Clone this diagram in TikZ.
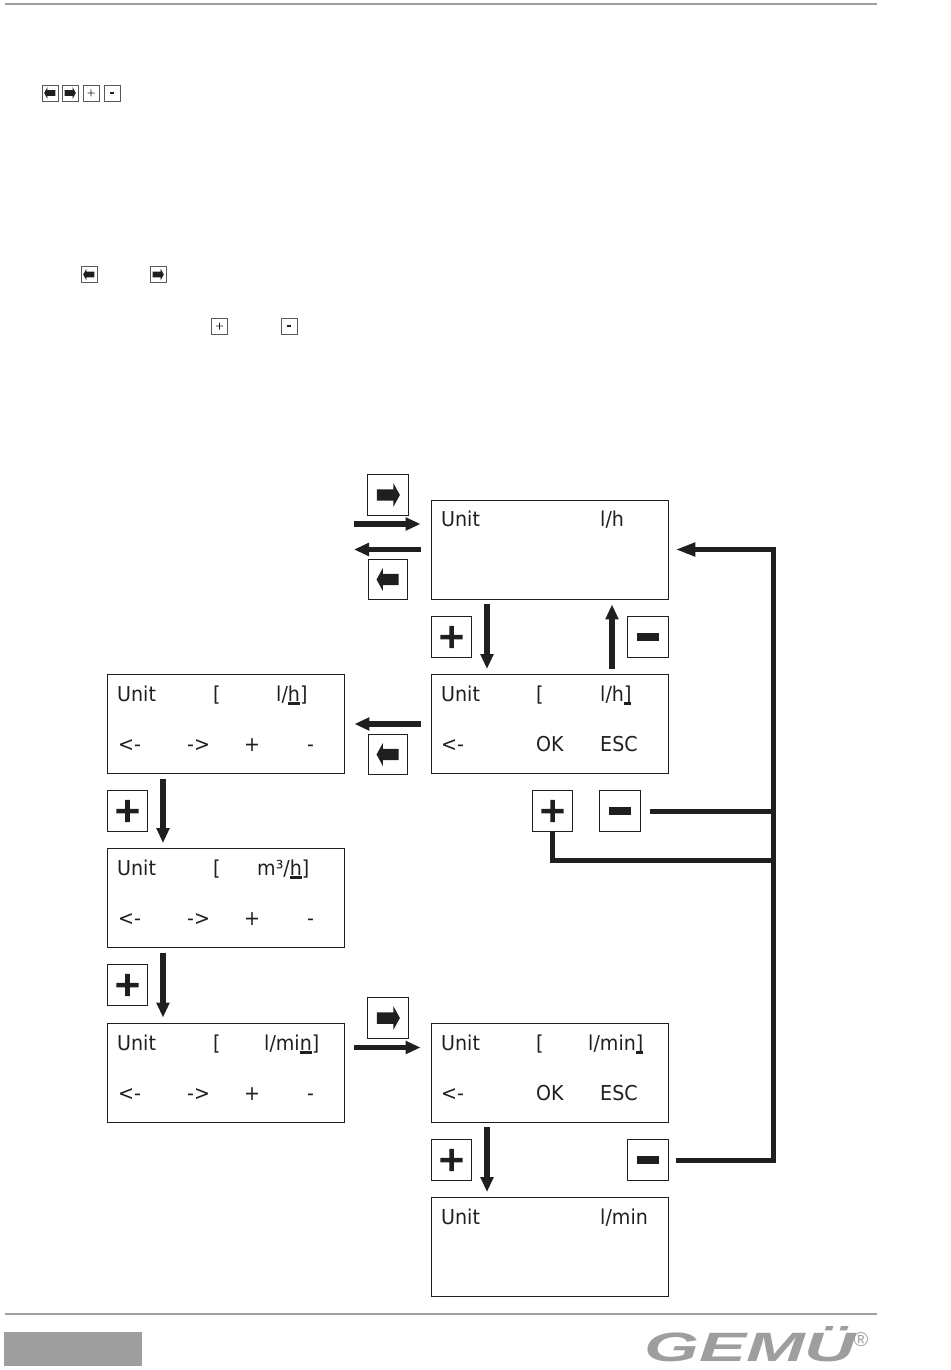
\documentclass[tikz,border=0pt]{standalone}
\usepackage{fontspec}
\setmainfont{DejaVu Sans}[FakeStretch=0.93]
\newfontfamily\logofont{Liberation Sans}
\usepackage{graphicx}
\usetikzlibrary{arrows.meta}
\usetikzlibrary{calc}
\definecolor{rulegray}{gray}{0.62}
\definecolor{ink}{gray}{0.12}
\tikzstyle{display}=[draw=ink, line width=0.9pt, minimum width=237pt, minimum height=99pt, inner sep=0pt]
\tikzstyle{lcd}=[anchor=base west, inner sep=0pt, text=ink, font=\fontsize{20.5}{24}\selectfont]
\tikzstyle{keybox}=[draw=ink, line width=0.8pt, minimum size=#1, inner sep=0pt]
\tikzstyle{tinybox}=[draw=black!65, line width=0.7pt, minimum size=16pt, inner sep=0pt]
\tikzstyle{flow}=[draw=ink, line width=5.2pt, -{Triangle[length=15pt,width=12.5pt]}]
\tikzstyle{bus}=[draw=ink, line width=5pt]
\tikzset{
  glyphright/.style={path picture={\fill[ink,shift={(path picture bounding box.center)},x=#1pt,y=#1pt]
    (-.27,-.14) -- (.13,-.14) -- (.13,-.29) -- (.29,0) -- (.13,.29) -- (.13,.14) -- (-.27,.14) -- cycle;}},
  glyphleft/.style={path picture={\fill[ink,shift={(path picture bounding box.center)},x=#1pt,y=#1pt]
    (.27,-.14) -- (-.13,-.14) -- (-.13,-.29) -- (-.29,0) -- (-.13,.29) -- (-.13,.14) -- (.27,.14) -- cycle;}},
  glyphplus/.style={path picture={\fill[ink,shift={(path picture bounding box.center)},x=41pt,y=41pt]
    (-.27,-.055) rectangle (.27,.055) (-.055,-.27) rectangle (.055,.27);}},
  glyphminus/.style={path picture={\fill[ink,shift={(path picture bounding box.center)},x=41pt,y=41pt]
    (-.27,-.1) rectangle (.27,.1);}},
  tinyplus/.style={path picture={\fill[ink,shift={(path picture bounding box.center)}]
    (-3.5,-.35) rectangle (3.5,.35) (-.35,-3.5) rectangle (.35,3.5);}},
  tinyminus/.style={path picture={\fill[ink,shift={(path picture bounding box.center)}]
    (-2,-.8) rectangle (2,.8);}}
}
\newcommand{\cursor}[1]{\setbox0\hbox{#1}\rlap{\rule[-3.6pt]{\wd0}{3pt}}#1}

\begin{document}
\begin{tikzpicture}[x=1pt, y=-1pt]
  \useasboundingbox (0,0) rectangle (950,1370);

  % page frame
  \fill[rulegray] (5,3.5) rectangle (877,5.5);
  \fill[rulegray] (5,1312.5) rectangle (877,1314.5);
  \fill[rulegray] (4,1332) rectangle (142,1366);
  \node[anchor=base west, inner sep=0pt, text=rulegray, font=\logofont\fontsize{41}{41}\selectfont\bfseries\itshape] (logo) at (644,1361) {\scalebox{1.72}[1]{GEMÜ}};
  \node[inner sep=0pt, text=rulegray, font=\logofont\fontsize{20}{20}\selectfont] (regmark) at (861,1340) {®};

  % keys in the text
  \node[tinybox, glyphleft=20] (tleft) at (50,93) {};
  \node[tinybox, glyphright=20] (tright) at (70,93) {};
  \node[tinybox, tinyplus] (tplus) at (91,93) {};
  \node[tinybox, tinyminus] (tminus) at (112,93) {};
  \node[tinybox, glyphleft=20] (uleft) at (89,274.5) {};
  \node[tinybox, glyphright=20] (uright) at (158,274.5) {};
  \node[tinybox, tinyplus] (vplus) at (219.5,326) {};
  \node[tinybox, tinyminus] (vminus) at (289,326) {};

  % displays
  \node[display] (dispA) at (549.5,549.5) {};
  \node[display] (dispB) at (549.5,724) {};
  \node[display] (dispC) at (225.5,724) {};
  \node[display] (dispD) at (225.5,898) {};
  \node[display] (dispE) at (225.5,1072.5) {};
  \node[display] (dispF) at (549.5,1072.5) {};
  \node[display] (dispG) at (549.5,1247) {};

  \node[lcd] (a1) at (441,526) {Unit};
  \node[lcd] (a2) at (600,526) {l/h};

  \node[lcd] (b1) at (441,701) {Unit};
  \node[lcd] (b2) at (536,701) {[};
  \node[lcd] (b3) at (600,701) {l/h\cursor{]}};
  \node[lcd] (b4) at (441,751) {<-};
  \node[lcd] (b5) at (536,751) {OK};
  \node[lcd] (b6) at (600,751) {ESC};

  \node[lcd] (c1) at (117,701) {Unit};
  \node[lcd] (c2) at (213,701) {[};
  \node[lcd] (c3) at (276,701) {l/\cursor{h}]};
  \node[lcd] (c4) at (118,751) {<-};
  \node[lcd] (c5) at (187,751) {->};
  \node[lcd] (c6) at (244,751) {+};
  \node[lcd] (c7) at (307,751) {-};

  \node[lcd] (d1) at (117,875) {Unit};
  \node[lcd] (d2) at (213,875) {[};
  \node[lcd] (d3) at (257,875) {m³/\cursor{h}]};
  \node[lcd] (d4) at (118,925) {<-};
  \node[lcd] (d5) at (187,925) {->};
  \node[lcd] (d6) at (244,925) {+};
  \node[lcd] (d7) at (307,925) {-};

  \node[lcd] (e1) at (117,1050) {Unit};
  \node[lcd] (e2) at (213,1050) {[};
  \node[lcd] (e3) at (264,1050) {l/mi\cursor{n}]};
  \node[lcd] (e4) at (118,1100) {<-};
  \node[lcd] (e5) at (187,1100) {->};
  \node[lcd] (e6) at (244,1100) {+};
  \node[lcd] (e7) at (307,1100) {-};

  \node[lcd] (f1) at (441,1050) {Unit};
  \node[lcd] (f2) at (536,1050) {[};
  \node[lcd] (f3) at (588,1050) {l/min\cursor{]}};
  \node[lcd] (f4) at (441,1100) {<-};
  \node[lcd] (f5) at (536,1100) {OK};
  \node[lcd] (f6) at (600,1100) {ESC};

  \node[lcd] (g1) at (441,1224) {Unit};
  \node[lcd] (g2) at (600,1224) {l/min};

  % keys
  \node[keybox=41pt, glyphright=41] (kright1) at (388,495) {};
  \node[keybox=39.5pt, glyphleft=39.5] (kleft1) at (388,579.5) {};
  \node[keybox=40.5pt, glyphplus] (kplus1) at (451.5,637) {};
  \node[keybox=40.5pt, glyphminus] (kminus1) at (648,637) {};
  \node[keybox=39.5pt, glyphleft=39.5] (kleft2) at (388,754.5) {};
  \node[keybox=40.5pt, glyphplus] (kplus2) at (127.5,811) {};
  \node[keybox=40.5pt, glyphplus] (kplus3) at (552.5,811) {};
  \node[keybox=40.5pt, glyphminus] (kminus3) at (620,811) {};
  \node[keybox=40.5pt, glyphplus] (kplus4) at (127.5,985) {};
  \node[keybox=41pt, glyphright=41] (kright2) at (388,1018) {};
  \node[keybox=40.5pt, glyphplus] (kplus5) at (451.5,1160) {};
  \node[keybox=40.5pt, glyphminus] (kminus5) at (648,1160) {};

  % free ends
  \coordinate (inA) at (354,524);
  \coordinate (outA) at (354,549.5);
  \coordinate (bustop) at (773,549.5);
  \coordinate (busjoin) at (773,860);
  \coordinate (busend) at (773,1160);

  % arrows
  \draw[flow] (inA) -- ([xshift=-10pt,yshift=25.5pt]dispA.west);
  \draw[flow] ([xshift=-10pt]dispA.west) -- (outA);
  \draw[flow] ([xshift=-62.5pt,yshift=-5pt]dispA.south) -- ([xshift=-62.5pt,yshift=5pt]dispB.north);
  \draw[flow] ([xshift=62.5pt,yshift=5pt]dispB.north) -- ([xshift=62.5pt,yshift=-5pt]dispA.south);
  \draw[flow] ([xshift=-10pt]dispB.west) -- ([xshift=10pt]dispC.east);
  \draw[flow] ([xshift=-62.5pt,yshift=-5pt]dispC.south) -- ([xshift=-62.5pt,yshift=5pt]dispD.north);
  \draw[flow] ([xshift=-62.5pt,yshift=-5pt]dispD.south) -- ([xshift=-62.5pt,yshift=5pt]dispE.north);
  \draw[flow] ([xshift=10pt,yshift=25pt]dispE.east) -- ([xshift=-10pt,yshift=25pt]dispF.west);
  \draw[flow] ([xshift=-62.5pt,yshift=-5pt]dispF.south) -- ([xshift=-62.5pt,yshift=5pt]dispG.north);

  % return lines
  \draw[bus, -{Triangle[length=20pt,width=13pt]}] ([xshift=7pt]kminus5.east) -- (busend) -- (bustop) -- ([xshift=7pt]dispA.east);
  \draw[bus] ([xshift=9pt]kminus3.east) -- (kminus3 -| busend);
  \draw[bus] (kplus3.south) |- (busjoin);
\end{tikzpicture}
\end{document}
